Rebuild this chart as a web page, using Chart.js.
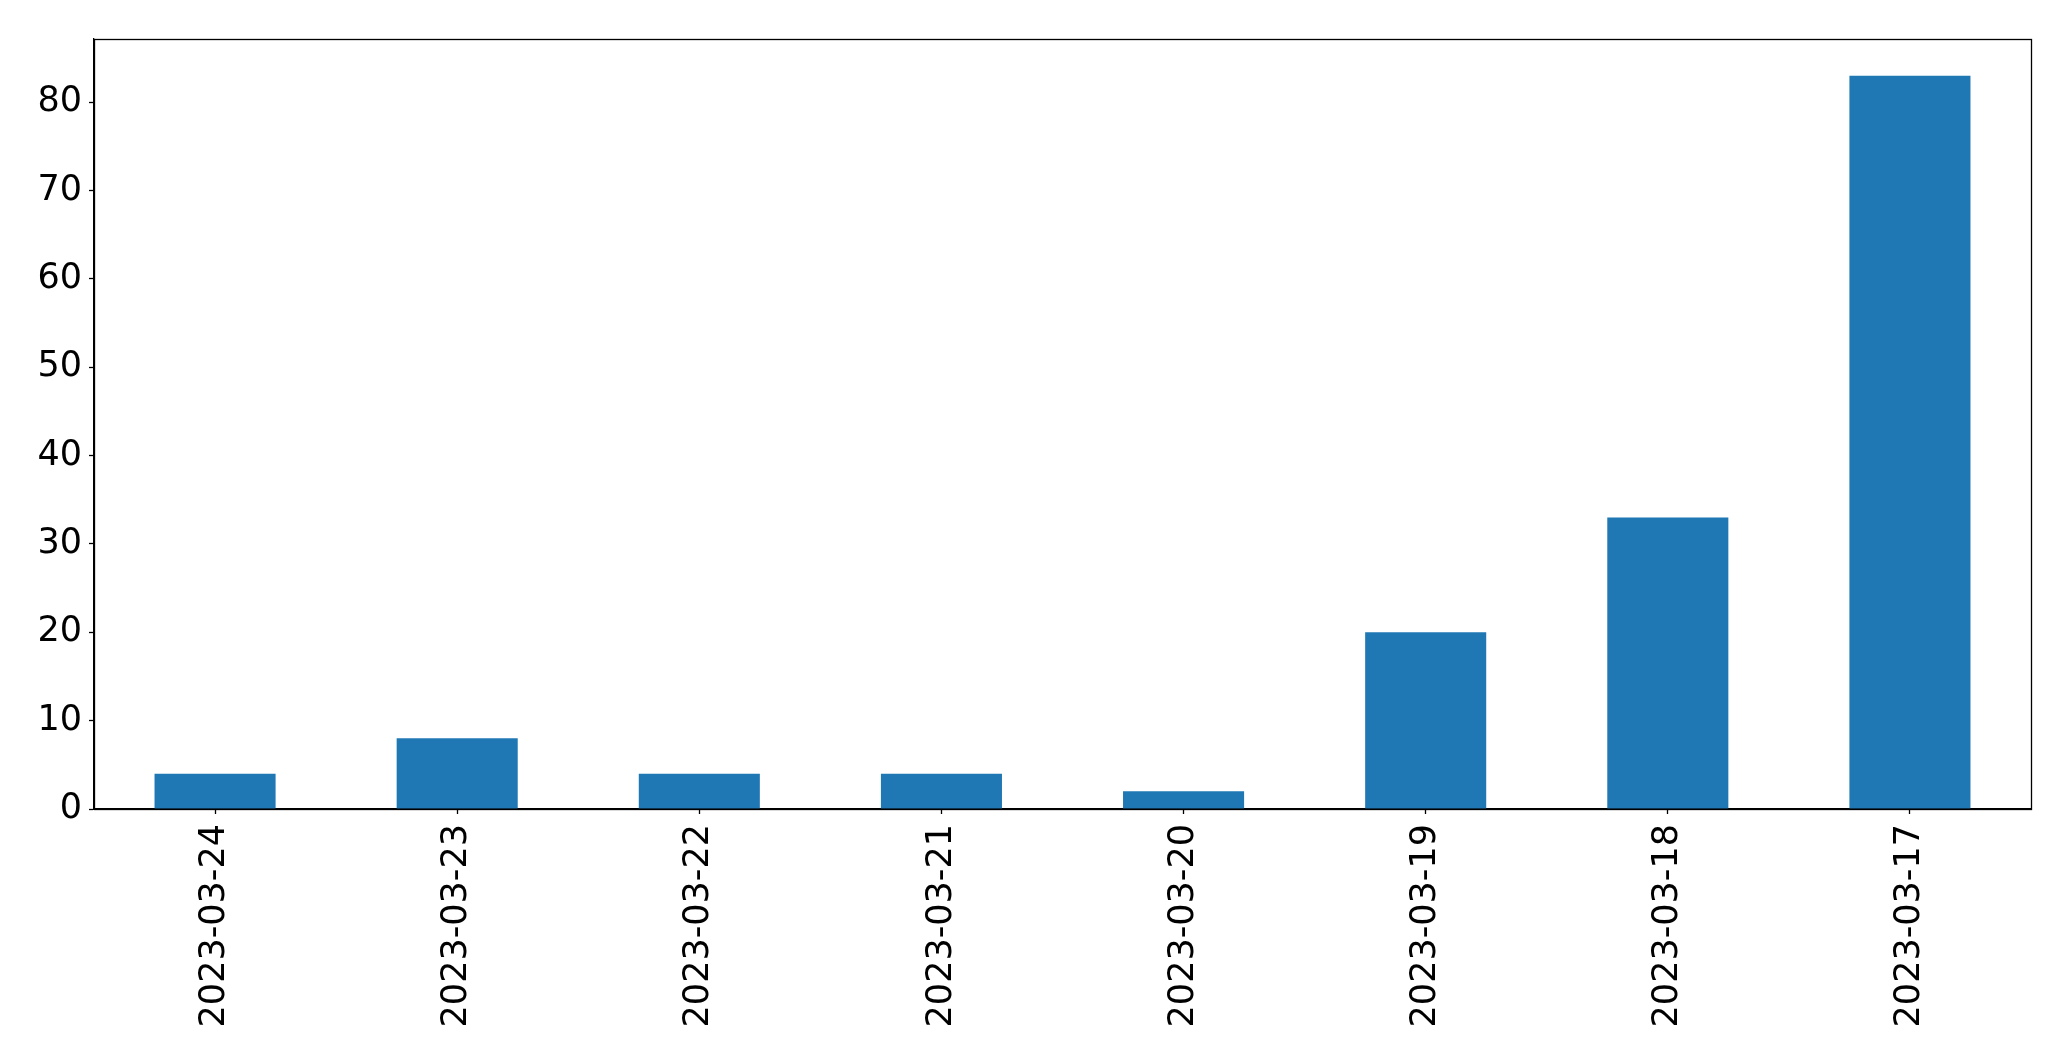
<!DOCTYPE html>
<html>
<head>
<meta charset="utf-8">
<script src="https://cdn.jsdelivr.net/npm/chart.js@4/dist/chart.umd.min.js"></script>
<style>
html,body{margin:0;padding:0;background:#fff;}
#wrap{width:2071px;height:1061px;position:relative;}
</style>
</head>
<body>
<div id="wrap"><canvas id="c" width="2071" height="1061"></canvas></div>
<script>
const categories = ["2023-03-24","2023-03-23","2023-03-22","2023-03-21","2023-03-20","2023-03-19","2023-03-18","2023-03-17"];
const counts = [4, 8, 4, 4, 2, 20, 33, 83];
const yTicks = [0, 10, 20, 30, 40, 50, 60, 70, 80];

const frame = {
  id: 'frame',
  afterDraw(chart) {
    const a = chart.chartArea, ctx = chart.ctx;
    ctx.save();
    ctx.strokeStyle = '#000';
    ctx.lineWidth = 1.3;
    ctx.strokeRect(Math.round(a.left) + 0.5, Math.round(a.top) + 0.5, Math.round(a.right - a.left), Math.round(a.bottom - a.top));
    ctx.restore();
  }
};

new Chart(document.getElementById('c'), {
  type: 'bar',
  data: {
    labels: categories,
    datasets: [{
      data: counts,
      backgroundColor: '#1f77b4',
      borderWidth: 0,
      categoryPercentage: 1.0,
      barPercentage: 0.5
    }]
  },
  options: {
    responsive: false,
    animation: false,
    devicePixelRatio: 1,
    layout: { padding: { top: 39, right: 40, left: 0, bottom: 0 } },
    plugins: { legend: { display: false }, tooltip: { enabled: false } },
    scales: {
      x: {
        offset: true,
        grid: { display: true, offset: false, drawOnChartArea: false, drawTicks: true, tickLength: 5, color: '#000', tickWidth: 1.3 },
        border: { display: true, color: '#000', width: 1.3 },
        ticks: {
          color: '#000',
          font: { family: 'DejaVu Sans', size: 35 },
          minRotation: 90, maxRotation: 90,
          autoSkip: false,
          padding: 10
        },
        afterFit(scale) { scale.height = 252; }
      },
      y: {
        min: 0,
        max: 87.15,
        grid: { display: true, drawOnChartArea: false, drawTicks: true, tickLength: 5, color: '#000', tickWidth: 1.3 },
        border: { display: true, color: '#000', width: 1.3 },
        afterBuildTicks(scale) { scale.ticks = yTicks.map(v => ({ value: v })); },
        ticks: {
          color: '#000',
          font: { family: 'DejaVu Sans', size: 35 },
          padding: 7
        },
        afterFit(scale) { scale.width = 94; }
      }
    }
  },
  plugins: [frame]
});
</script>
</body>
</html>
